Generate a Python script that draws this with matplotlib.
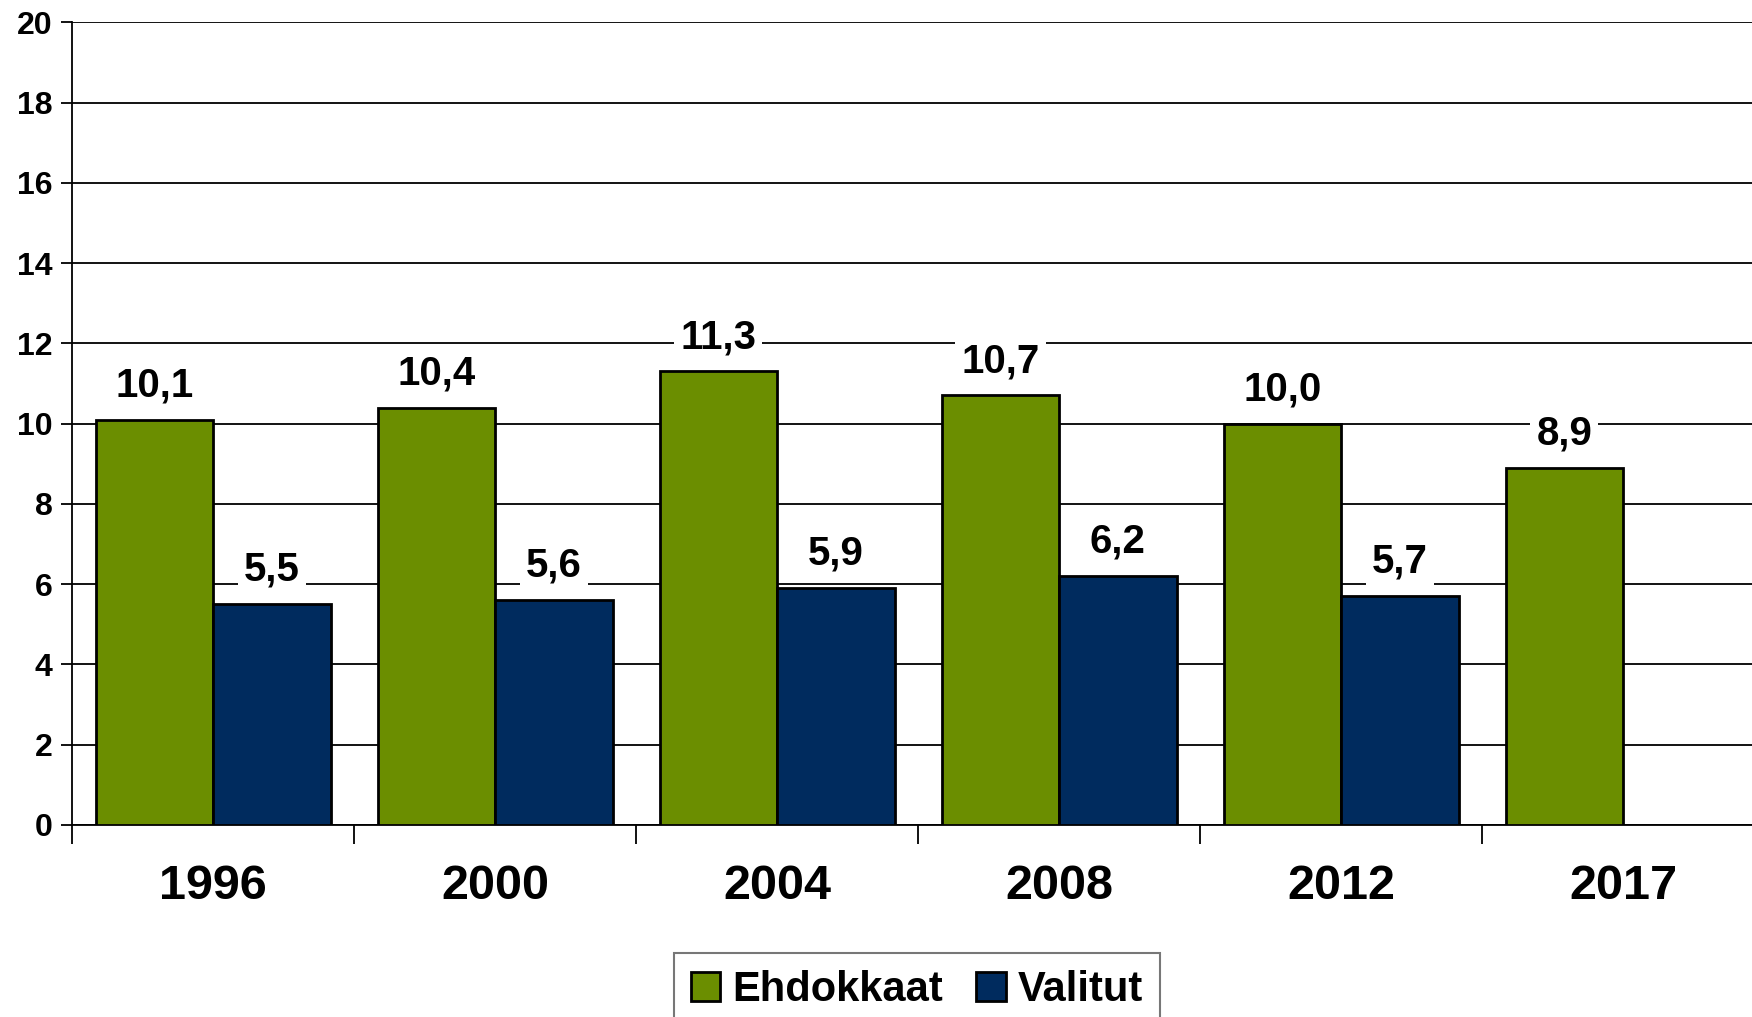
import numpy as np
import matplotlib
matplotlib.use("Agg")
import matplotlib.pyplot as plt

years = ["1996", "2000", "2004", "2008", "2012", "2017"]
ehdokkaat = [10.1, 10.4, 11.3, 10.7, 10.0, 8.9]
valitut = [5.5, 5.6, 5.9, 6.2, 5.7, None]

plt.rcParams['font.family'] = ['Liberation Sans', 'DejaVu Sans']
plt.rcParams['font.weight'] = 'bold'

fig = plt.figure(figsize=(17.52, 10.17), dpi=100)
ax = fig.add_axes([0.0411, 0.189, 1.007 - 0.0411, 0.978 - 0.189])

x = np.arange(len(years))
w = 0.4167
green = '#6b8e00'
navy = '#002b5e'

b1 = ax.bar(x - w / 2, ehdokkaat, w, color=green, edgecolor='black', linewidth=2, label='Ehdokkaat', zorder=3)
v = [np.nan if val is None else val for val in valitut]
b2 = ax.bar(x + w / 2, v, w, color=navy, edgecolor='black', linewidth=2, label='Valitut', zorder=3)

def fmt(val):
    return f"{val:.1f}".replace('.', ',')

for xs, vals in ((x - w / 2, ehdokkaat), (x + w / 2, valitut)):
    for xi, val in zip(xs, vals):
        if val is None:
            continue
        ax.annotate(fmt(val), (xi, val), xytext=(0, 11), textcoords='offset points',
                    ha='center', va='bottom', fontsize=29, fontweight='bold', zorder=4,
                    bbox=dict(boxstyle='square,pad=0.15', facecolor='white', edgecolor='none'))

ax.set_ylim(0, 20)
ax.set_yticks(range(0, 21, 2))
ax.set_xlim(-0.5, len(years) - 0.5)
ax.yaxis.grid(True, color='black', linewidth=1.3, zorder=0)
ax.set_axisbelow(True)

ax.set_yticklabels([str(t) for t in range(0, 21, 2)], fontsize=23, fontweight='bold')
ax.tick_params(axis='y', length=8, width=1.3, pad=6)

ax.set_xticks(x)
ax.set_xticklabels(years, fontsize=35, fontweight='bold')
ax.tick_params(axis='x', length=0, pad=28)
ax.set_xticks(np.arange(-0.5, len(years), 1), minor=True)
ax.tick_params(axis='x', which='minor', length=14, width=1.3)

for s in ('top', 'right'):
    ax.spines[s].set_visible(False)
ax.spines['left'].set_linewidth(1.3)
ax.spines['bottom'].set_linewidth(1.3)

leg = fig.legend(handles=[b1, b2], loc='upper left', bbox_to_anchor=(674 / 1752, 1 - 953 / 1017),
                 ncol=2, frameon=True, fancybox=False, handlelength=0.7, borderaxespad=0,
                 handleheight=0.7, handletextpad=0.3, columnspacing=0.8, borderpad=0.4,
                 prop={'weight': 'bold', 'size': 30})
leg.get_frame().set_edgecolor('#555555')
leg.get_frame().set_linewidth(1.5)

fig.savefig('out.png', dpi=100)
